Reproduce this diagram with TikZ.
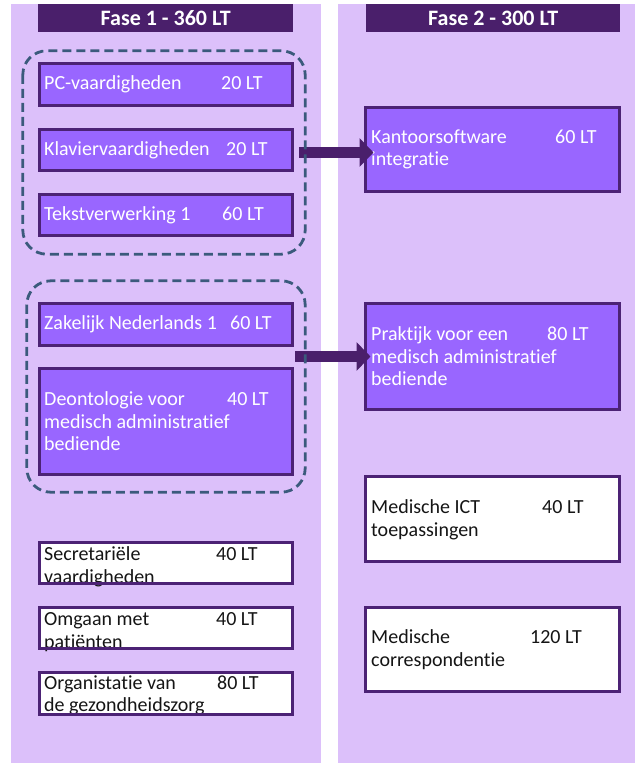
\documentclass[tikz,border=0pt]{standalone}
\usepackage{fontspec}
\setmainfont{Carlito}[Ligatures={NoCommon,NoRare,NoContextual}]
\usetikzlibrary{arrows.meta}
\definecolor{bgcol}{HTML}{DCC0FA}
\definecolor{boxfill}{HTML}{9966FF}
\definecolor{boxline}{HTML}{4C2275}
\definecolor{hdrcol}{HTML}{4A1F6B}
\definecolor{dashcol}{HTML}{3B5A7C}
\definecolor{inkcol}{HTML}{151515}
\newcommand{\ltrow}[3]{\makebox[#1pt][l]{#2}#3}
\tikzset{
  bgpanel/.style={fill=bgcol, draw=none},
  hdrbox/.style={fill=hdrcol, draw=none, text=white, inner sep=0pt,
    font=\fontsize{22}{24}\selectfont\bfseries},
  pbox/.style={fill=boxfill, draw=boxline, line width=3pt, inner sep=0pt, outer sep=0pt},
  wbox/.style={fill=white, draw=boxline, line width=3pt, inner sep=0pt, outer sep=0pt},
  edge/.style={draw=boxline, line width=3pt},
  ptext/.style={text=white, inner sep=0pt, align=left, anchor=west,
    font=\fontsize{20}{22.5}\selectfont},
  wtext/.style={text=inkcol, inner sep=0pt, align=left, anchor=west,
    font=\fontsize{20}{22.5}\selectfont},
  grpnode/.style={draw=none, inner sep=0pt},
  grpline/.style={draw=dashcol, line width=2.8pt, dash pattern=on 9pt off 5pt,
    rounded corners=24pt},
  flow/.style={draw=hdrcol, line width=11.5pt, -{Triangle[length=14pt,width=28pt]}}
}
% \bx{name}{style}{x1}{y1}{x2}{y2}  (outer edges)
\newcommand{\bx}[6]{\node[#2, minimum width={#5-#3-3}, minimum height={#6-#4-3}]
  (#1) at ({(#3+#5)/2},{(#4+#6)/2}) {};}
\begin{document}
\begin{tikzpicture}[x=1pt,y=-1pt]
\useasboundingbox (0,0) rectangle (635,763);
% panels
\fill[bgpanel] (11,4) rectangle (321,763);
\fill[bgpanel] (338,4) rectangle (635,763);
\node[hdrbox, minimum width=255, minimum height=28, anchor=north west] (h1) at (38,4) {Fase 1 - 360 LT};
\node[hdrbox, minimum width=254, minimum height=28, anchor=north west] (h2) at (366,4) {Fase 2 - 300 LT};
% left column boxes
\bx{pc}{pbox}{38}{62}{294}{107}
\bx{kla}{pbox}{38}{128}{294}{172}
\bx{tek}{pbox}{38}{193}{294}{237}
\bx{zak}{pbox}{38}{302}{294}{347}
\bx{deo}{pbox}{38}{367}{294}{476}
\bx{sec}{wbox}{38}{541}{294}{585}
\bx{omg}{wbox}{38}{606}{294}{650}
\bx{org}{wbox}{38}{671}{294}{716}
% right column boxes
\bx{kan}{pbox}{364}{106}{621}{193}
\bx{pra}{pbox}{364}{302}{621}{411}
\bx{ict}{wbox}{364}{475}{621}{563}
\bx{cor}{wbox}{364}{606}{621}{693}
% texts
\node[ptext] (pct) at ([xshift=4.5]pc.west) {\ltrow{177}{PC-vaardigheden}{20 LT}};
\node[ptext] (klat) at ([xshift=4.5]kla.west) {\ltrow{182}{Klaviervaardigheden}{20 LT}};
\node[ptext] (tekt) at ([xshift=4.5]tek.west) {\ltrow{178}{Tekstverwerking 1}{60 LT}};
\node[ptext] (zakt) at ([xshift=4.5]zak.west) {\ltrow{186}{Zakelijk Nederlands 1}{60 LT}};
\node[ptext] (deot) at ([xshift=4.5]deo.west) {\ltrow{183}{Deontologie voor}{40 LT}\\medisch administratief\\bediende};
\node[wtext] (sect) at ([xshift=4.5,yshift=-4]sec.west) {\ltrow{172}{Secretariële}{40 LT}\\vaardigheden};
\node[wtext] (omgt) at ([xshift=4.5,yshift=-4]omg.west) {\ltrow{172}{Omgaan met}{40 LT}\\patiënten};
\node[wtext] (orgt) at ([xshift=4.5,yshift=-2]org.west) {\ltrow{173}{Organistatie van}{80 LT}\\de gezondheidszorg};
\node[ptext] (kant) at ([xshift=5.5]kan.west) {\ltrow{184}{Kantoorsoftware}{60 LT}\\integratie};
\node[ptext] (prat) at ([xshift=5.5]pra.west) {\ltrow{176}{Praktijk voor een}{80 LT}\\medisch administratief\\bediende};
\node[wtext] (ictt) at ([xshift=5.5,yshift=-1]ict.west) {\ltrow{171}{Medische ICT}{40 LT}\\toepassingen};
\node[wtext] (cort) at ([xshift=5.5]cor.west) {\ltrow{159}{Medische}{120 LT}\\correspondentie};
% box borders drawn over the texts
\foreach \n in {sec,omg,org,ict,cor}
  \draw[edge] (\n.north west) rectangle (\n.south east);
% groups
\node[grpnode, minimum width=282, minimum height=203] (g1) at (164,152.5) {};
\node[grpnode, minimum width=278, minimum height=211] (g2) at (166,386.5) {};
% arrows
\draw[flow] ([xshift=-6]g1.east) -- ([xshift=8]g1.east -| kan.west);
\draw[flow] ([xshift=-10]g2.east |- pra.west) -- ([xshift=5]pra.west);
% dashed group outlines
\draw[grpline] (g1.north west) rectangle (g1.south east);
\draw[grpline] (g2.north west) rectangle (g2.south east);
\end{tikzpicture}
\end{document}
